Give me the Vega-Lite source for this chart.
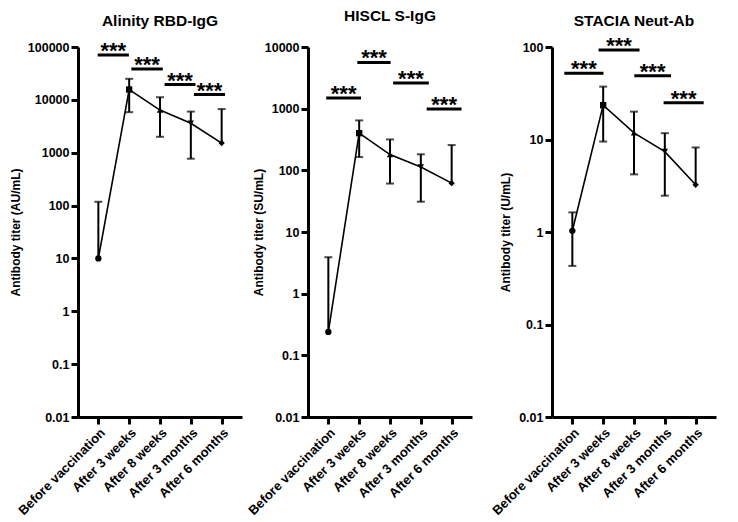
{
  "$schema": "https://vega.github.io/schema/vega-lite/v6.json",
  "background": "white",
  "padding": {"left": 9, "top": 8, "right": 10, "bottom": 3},
  "datasets": {
    "titers": [
      {"panel": "A", "t": 0, "time": "Before vaccination", "v": 10, "lo": 10, "hi": 118},
      {"panel": "A", "t": 1, "time": "After 3 weeks", "v": 15700, "lo": 5850, "hi": 25000},
      {"panel": "A", "t": 2, "time": "After 8 weeks", "v": 6400, "lo": 2000, "hi": 11200},
      {"panel": "A", "t": 3, "time": "After 3 months", "v": 3600, "lo": 770, "hi": 6000},
      {"panel": "A", "t": 4, "time": "After 6 months", "v": 1520, "lo": 1520, "hi": 6700},
      {"panel": "B", "t": 0, "time": "Before vaccination", "v": 0.24, "lo": 0.24, "hi": 3.9},
      {"panel": "B", "t": 1, "time": "After 3 weeks", "v": 400, "lo": 164, "hi": 645},
      {"panel": "B", "t": 2, "time": "After 8 weeks", "v": 180, "lo": 61, "hi": 317},
      {"panel": "B", "t": 3, "time": "After 3 months", "v": 113, "lo": 31, "hi": 182},
      {"panel": "B", "t": 4, "time": "After 6 months", "v": 62, "lo": 62, "hi": 257},
      {"panel": "C", "t": 0, "time": "Before vaccination", "v": 1.03, "lo": 0.43, "hi": 1.63},
      {"panel": "C", "t": 1, "time": "After 3 weeks", "v": 23.5, "lo": 9.5, "hi": 37.3},
      {"panel": "C", "t": 2, "time": "After 8 weeks", "v": 11.8, "lo": 4.2, "hi": 20},
      {"panel": "C", "t": 3, "time": "After 3 months", "v": 7.4, "lo": 2.47, "hi": 11.7},
      {"panel": "C", "t": 4, "time": "After 6 months", "v": 3.24, "lo": 3.24, "hi": 8.2}
    ],
    "brackets": [
      {"panel": "A", "x1": -0.02, "x2": 0.99, "xm": 0.485, "v": 70600, "sig": "***"},
      {"panel": "A", "x1": 1.07, "x2": 2.09, "xm": 1.58, "v": 38400, "sig": "***"},
      {"panel": "A", "x1": 2.15, "x2": 3.15, "xm": 2.65, "v": 19500, "sig": "***"},
      {"panel": "A", "x1": 3.1, "x2": 4.11, "xm": 3.605, "v": 12600, "sig": "***"},
      {"panel": "B", "x1": -0.07, "x2": 1.06, "xm": 0.495, "v": 1490, "sig": "***"},
      {"panel": "B", "x1": 0.94, "x2": 2.02, "xm": 1.48, "v": 5610, "sig": "***"},
      {"panel": "B", "x1": 2.1, "x2": 3.26, "xm": 2.68, "v": 2600, "sig": "***"},
      {"panel": "B", "x1": 3.19, "x2": 4.32, "xm": 3.755, "v": 990, "sig": "***"},
      {"panel": "C", "x1": -0.26, "x2": 1.01, "xm": 0.375, "v": 52, "sig": "***"},
      {"panel": "C", "x1": 0.85, "x2": 2.18, "xm": 1.515, "v": 93, "sig": "***"},
      {"panel": "C", "x1": 2.01, "x2": 3.2, "xm": 2.605, "v": 49, "sig": "***"},
      {"panel": "C", "x1": 2.96, "x2": 4.26, "xm": 3.61, "v": 25, "sig": "***"}
    ]
  },
  "config": {
    "font": "Liberation Sans",
    "view": {"stroke": null},
    "axis": {
      "grid": false,
      "domainColor": "black", "domainWidth": 3,
      "tickColor": "black", "tickWidth": 3, "tickSize": 7,
      "labelFont": "Liberation Sans", "labelFontWeight": "bold", "labelFontSize": 12.5, "labelColor": "black", "labelPadding": 2,
      "labelOverlap": false,
      "titleFont": "Liberation Sans", "titleFontWeight": "bold", "titleFontSize": 12, "titleColor": "black"
    },
    "title": {"font": "Liberation Sans", "fontSize": 15.5, "fontWeight": "bold", "color": "black"}
  },
  "bounds": "full",
  "spacing": 18,
  "hconcat": [
    {
      "bounds": "flush",
      "spacing": 66,
      "hconcat": [
        {
          "width": 164, "height": 370,
          "title": {"text": "Alinity RBD-IgG", "offset": 10},
          "layer": [
            {"data": {"name": "titers"}, "transform": [{"filter": "datum.panel === 'A'"}],
             "mark": {"type": "line", "color": "black", "strokeWidth": 1.6},
             "encoding": {
               "x": {"field": "t", "type": "quantitative", "scale": {"domain": [-0.66, 4.66], "nice": false, "zero": false},
                     "axis": {"values": [0, 1, 2, 3, 4], "labelAngle": -45, "labelFontSize": 13, "title": null,
                              "labelExpr": "['Before vaccination','After 3 weeks','After 8 weeks','After 3 months','After 6 months'][datum.value]"}},
               "y": {"field": "v", "type": "quantitative", "scale": {"type": "log", "domain": [0.01, 100000], "nice": false},
                     "axis": {"values": [0.01, 0.1, 1, 10, 100, 1000, 10000, 100000], "format": "~g", "title": "Antibody titer (AU/mL)", "titleX": -63, "titleBaseline": "middle", "titleAngle": -90}}
             }},
            {"data": {"name": "titers"}, "transform": [{"filter": "datum.panel === 'A'"}],
             "mark": {"type": "rule", "color": "black", "strokeWidth": 2},
             "encoding": {"x": {"field": "t", "type": "quantitative"}, "y": {"field": "lo", "type": "quantitative"}, "y2": {"field": "hi"}}},
            {"data": {"name": "titers"}, "transform": [{"filter": "datum.panel === 'A'"}],
             "mark": {"type": "tick", "color": "black", "thickness": 2, "size": 8, "orient": "horizontal"},
             "encoding": {"x": {"field": "t", "type": "quantitative"}, "y": {"field": "hi", "type": "quantitative"}}},
            {"data": {"name": "titers"}, "transform": [{"filter": "datum.panel === 'A' && datum.lo < datum.v"}],
             "mark": {"type": "tick", "color": "black", "thickness": 2, "size": 8, "orient": "horizontal"},
             "encoding": {"x": {"field": "t", "type": "quantitative"}, "y": {"field": "lo", "type": "quantitative"}}},
            {"data": {"name": "titers"}, "transform": [{"filter": "datum.panel === 'A'"}],
             "mark": {"type": "point", "filled": true, "color": "black", "opacity": 1, "size": 40},
             "encoding": {"x": {"field": "t", "type": "quantitative"}, "y": {"field": "v", "type": "quantitative"},
                          "shape": {"field": "t", "type": "nominal", "scale": {"range": ["circle", "square", "triangle-up", "triangle-down", "diamond"]}, "legend": null}}},
            {"data": {"name": "brackets"}, "transform": [{"filter": "datum.panel === 'A'"}],
             "mark": {"type": "rule", "color": "black", "strokeWidth": 3},
             "encoding": {"x": {"field": "x1", "type": "quantitative"}, "x2": {"field": "x2"}, "y": {"field": "v", "type": "quantitative"}}},
            {"data": {"name": "brackets"}, "transform": [{"filter": "datum.panel === 'A'"}],
             "mark": {"type": "text", "color": "black", "fontSize": 22, "fontWeight": "bold", "baseline": "alphabetic", "align": "center", "dy": 3},
             "encoding": {"x": {"field": "xm", "type": "quantitative"}, "y": {"field": "v", "type": "quantitative"}, "text": {"field": "sig"}}}
          ]
        },
        {
          "width": 164, "height": 370,
          "title": {"text": "HISCL S-IgG", "offset": 16.6},
          "layer": [
            {"data": {"name": "titers"}, "transform": [{"filter": "datum.panel === 'B'"}],
             "mark": {"type": "line", "color": "black", "strokeWidth": 1.6},
             "encoding": {
               "x": {"field": "t", "type": "quantitative", "scale": {"domain": [-0.66, 4.66], "nice": false, "zero": false},
                     "axis": {"values": [0, 1, 2, 3, 4], "labelAngle": -45, "labelFontSize": 13, "title": null,
                              "labelExpr": "['Before vaccination','After 3 weeks','After 8 weeks','After 3 months','After 6 months'][datum.value]"}},
               "y": {"field": "v", "type": "quantitative", "scale": {"type": "log", "domain": [0.01, 10000], "nice": false},
                     "axis": {"values": [0.01, 0.1, 1, 10, 100, 1000, 10000], "format": "~g", "title": "Antibody titer (SU/mL)", "titleX": -50, "titleBaseline": "middle", "titleAngle": -90}}
             }},
            {"data": {"name": "titers"}, "transform": [{"filter": "datum.panel === 'B'"}],
             "mark": {"type": "rule", "color": "black", "strokeWidth": 2},
             "encoding": {"x": {"field": "t", "type": "quantitative"}, "y": {"field": "lo", "type": "quantitative"}, "y2": {"field": "hi"}}},
            {"data": {"name": "titers"}, "transform": [{"filter": "datum.panel === 'B'"}],
             "mark": {"type": "tick", "color": "black", "thickness": 2, "size": 8, "orient": "horizontal"},
             "encoding": {"x": {"field": "t", "type": "quantitative"}, "y": {"field": "hi", "type": "quantitative"}}},
            {"data": {"name": "titers"}, "transform": [{"filter": "datum.panel === 'B' && datum.lo < datum.v"}],
             "mark": {"type": "tick", "color": "black", "thickness": 2, "size": 8, "orient": "horizontal"},
             "encoding": {"x": {"field": "t", "type": "quantitative"}, "y": {"field": "lo", "type": "quantitative"}}},
            {"data": {"name": "titers"}, "transform": [{"filter": "datum.panel === 'B'"}],
             "mark": {"type": "point", "filled": true, "color": "black", "opacity": 1, "size": 40},
             "encoding": {"x": {"field": "t", "type": "quantitative"}, "y": {"field": "v", "type": "quantitative"},
                          "shape": {"field": "t", "type": "nominal", "scale": {"range": ["circle", "square", "triangle-up", "triangle-down", "diamond"]}, "legend": null}}},
            {"data": {"name": "brackets"}, "transform": [{"filter": "datum.panel === 'B'"}],
             "mark": {"type": "rule", "color": "black", "strokeWidth": 3},
             "encoding": {"x": {"field": "x1", "type": "quantitative"}, "x2": {"field": "x2"}, "y": {"field": "v", "type": "quantitative"}}},
            {"data": {"name": "brackets"}, "transform": [{"filter": "datum.panel === 'B'"}],
             "mark": {"type": "text", "color": "black", "fontSize": 22, "fontWeight": "bold", "baseline": "alphabetic", "align": "center", "dy": 3},
             "encoding": {"x": {"field": "xm", "type": "quantitative"}, "y": {"field": "v", "type": "quantitative"}, "text": {"field": "sig"}}}
          ]
        }
      ]
    },
    {
      "width": 164, "height": 370,
      "title": {"text": "STACIA Neut-Ab", "offset": 5},
      "layer": [
        {"data": {"name": "titers"}, "transform": [{"filter": "datum.panel === 'C'"}],
         "mark": {"type": "line", "color": "black", "strokeWidth": 1.6},
         "encoding": {
           "x": {"field": "t", "type": "quantitative", "scale": {"domain": [-0.66, 4.66], "nice": false, "zero": false},
                 "axis": {"values": [0, 1, 2, 3, 4], "labelAngle": -45, "labelFontSize": 13, "title": null,
                          "labelExpr": "['Before vaccination','After 3 weeks','After 8 weeks','After 3 months','After 6 months'][datum.value]"}},
           "y": {"field": "v", "type": "quantitative", "scale": {"type": "log", "domain": [0.01, 100], "nice": false},
                 "axis": {"values": [0.01, 0.1, 1, 10, 100], "format": "~g", "title": "Antibody titer (U/mL)", "titleX": -47, "titleBaseline": "middle", "titleAngle": -90}}
         }},
        {"data": {"name": "titers"}, "transform": [{"filter": "datum.panel === 'C'"}],
         "mark": {"type": "rule", "color": "black", "strokeWidth": 2},
         "encoding": {"x": {"field": "t", "type": "quantitative"}, "y": {"field": "lo", "type": "quantitative"}, "y2": {"field": "hi"}}},
        {"data": {"name": "titers"}, "transform": [{"filter": "datum.panel === 'C'"}],
         "mark": {"type": "tick", "color": "black", "thickness": 2, "size": 8, "orient": "horizontal"},
         "encoding": {"x": {"field": "t", "type": "quantitative"}, "y": {"field": "hi", "type": "quantitative"}}},
        {"data": {"name": "titers"}, "transform": [{"filter": "datum.panel === 'C' && datum.lo < datum.v"}],
         "mark": {"type": "tick", "color": "black", "thickness": 2, "size": 8, "orient": "horizontal"},
         "encoding": {"x": {"field": "t", "type": "quantitative"}, "y": {"field": "lo", "type": "quantitative"}}},
        {"data": {"name": "titers"}, "transform": [{"filter": "datum.panel === 'C'"}],
         "mark": {"type": "point", "filled": true, "color": "black", "opacity": 1, "size": 40},
         "encoding": {"x": {"field": "t", "type": "quantitative"}, "y": {"field": "v", "type": "quantitative"},
                      "shape": {"field": "t", "type": "nominal", "scale": {"range": ["circle", "square", "triangle-up", "triangle-down", "diamond"]}, "legend": null}}},
        {"data": {"name": "brackets"}, "transform": [{"filter": "datum.panel === 'C'"}],
         "mark": {"type": "rule", "color": "black", "strokeWidth": 3},
         "encoding": {"x": {"field": "x1", "type": "quantitative"}, "x2": {"field": "x2"}, "y": {"field": "v", "type": "quantitative"}}},
        {"data": {"name": "brackets"}, "transform": [{"filter": "datum.panel === 'C'"}],
         "mark": {"type": "text", "color": "black", "fontSize": 22, "fontWeight": "bold", "baseline": "alphabetic", "align": "center", "dy": 3},
         "encoding": {"x": {"field": "xm", "type": "quantitative"}, "y": {"field": "v", "type": "quantitative"}, "text": {"field": "sig"}}}
      ]
    }
  ]
}
